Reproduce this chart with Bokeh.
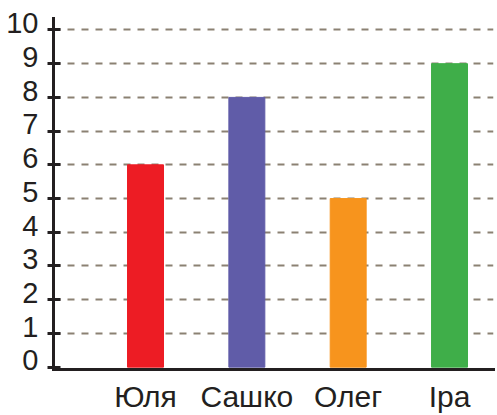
from bokeh.plotting import figure
from bokeh.models import Range1d, FixedTicker
from bokeh.embed import file_html
from bokeh.resources import INLINE
from bokeh.models import ColumnDataSource

# ---- data ----
names = ["Юля", "Сашко", "Олег", "Іра"]
values = [6, 8, 5, 9]
colors = ["#ED1C24", "#605CA8", "#F7941D", "#3FAE49"]
y_ticks = [0, 1, 2, 3, 4, 5, 6, 7, 8, 9, 10]
y_tick_labels = ["0", "1", "2", "3", "4", "5", "6", "7", "8", "9", "10"]

positions = list(range(1, len(names) + 1))
X_START, X_END = 0.092, 4.434
Y_START, Y_END = -0.07, 10.34
INK = "#231F20"

p = figure(width=497, height=415, output_backend="svg", toolbar_location=None,
           x_range=Range1d(X_START, X_END), y_range=Range1d(Y_START, Y_END),
           min_border_left=53, min_border_right=4, min_border_top=18,
           min_border_bottom=45, background_fill_color="white",
           border_fill_color="white")
p.outline_line_color = None

bars = ColumnDataSource(dict(x=positions, top=values, color=colors, name=names))
p.vbar(x="x", top="top", bottom=0, width=0.355, color="color", source=bars)

# x axis with category names
p.xaxis.ticker = FixedTicker(ticks=positions)
p.xaxis.major_label_overrides = {pos: nm for pos, nm in zip(positions, names)}
p.xaxis.major_tick_in = 0
p.xaxis.major_tick_out = 0
p.xaxis.minor_tick_in = 0
p.xaxis.minor_tick_out = 0
p.xaxis.axis_line_width = 3
p.xaxis.axis_line_color = INK
p.xaxis.axis_line_cap = "square"
p.xaxis.major_label_standoff = 10
p.xaxis.major_label_text_font = "Liberation Sans"
p.xaxis.major_label_text_font_size = "30px"
p.xaxis.major_label_text_color = INK

# y axis (labels sit a little above their ticks, as in the reference)
p.yaxis.ticker = FixedTicker(ticks=y_ticks)
p.yaxis.major_label_overrides = {t: s + "\n" for t, s in zip(y_ticks, y_tick_labels)}
p.yaxis.major_label_text_line_height = 0.42
p.yaxis.major_tick_in = 7
p.yaxis.major_tick_out = 6
p.yaxis.major_tick_line_width = 3
p.yaxis.major_tick_line_color = INK
p.yaxis.minor_tick_in = 0
p.yaxis.minor_tick_out = 0
p.yaxis.axis_line_width = 3
p.yaxis.axis_line_color = INK
p.yaxis.axis_line_cap = "square"
p.yaxis.major_label_standoff = 9
p.yaxis.major_label_text_font = "Liberation Sans"
p.yaxis.major_label_text_font_size = "29px"
p.yaxis.major_label_text_color = INK

# grid
p.xgrid.grid_line_color = None
p.ygrid.ticker = FixedTicker(ticks=y_ticks[1:])
p.ygrid.grid_line_color = "#8B8173"
p.ygrid.grid_line_width = 2
p.ygrid.grid_line_dash = "7 7"

open("out.html", "w").write(file_html(p, INLINE))
